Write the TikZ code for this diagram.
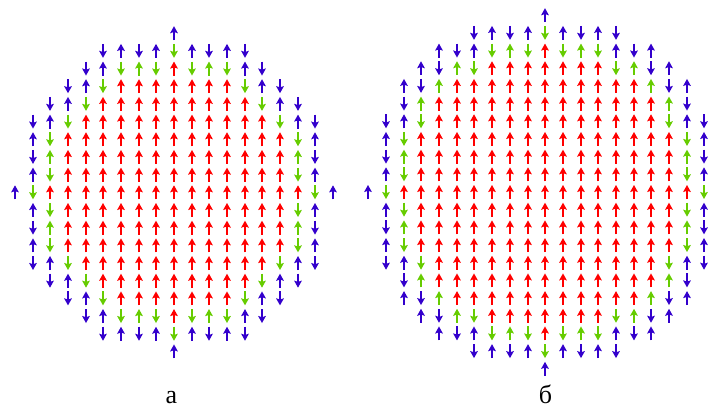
\documentclass[tikz,border=0pt]{standalone}
\usepackage{fontspec}
\setmainfont{Liberation Serif}
\usetikzlibrary{arrows.meta}
\definecolor{spinred}{RGB}{255,0,0}
\definecolor{spinblue}{RGB}{51,0,204}
\definecolor{spingreen}{RGB}{102,204,0}
\tikzset{
  spin/.style={line width=2pt,-{Stealth[length=7pt,width=7.6pt,inset=1.2pt]}},
  caption/.style={font=\fontsize{26}{30}\selectfont,anchor=base,inner sep=0pt}
}
% #1 cx, #2 cy (pixels from top), #3 R, #4 blue thresholds, #5 green thresholds, #6 skip i
\newcommand\spinfield[6]{%
  \foreach \i in {-#3,...,#3} {
    \foreach \j in {-#3,...,#3} {
      \pgfmathtruncatemacro\ins{(\i*\i+\j*\j<=#3*#3)?1:0}
      \ifnum\i=#6 \def\ins{0}\fi
      \ifnum\ins=1
        \pgfmathtruncatemacro\aa{abs(\i)}
        \pgfmathtruncatemacro\bb{abs(\j)}
        \pgfmathtruncatemacro\BL{{#4}[\aa]}
        \pgfmathtruncatemacro\GR{{#5}[\aa]}
        \pgfmathtruncatemacro\pty{mod(\i+\j+#3+100,2)}
        \pgfmathsetmacro\xx{round(#1+\i*17.68)}
        \pgfmathsetmacro\yy{-#2+\j*17.68}
        \ifnum\bb<\BL
          \ifnum\bb<\GR
            \def\col{spinred}\def\pty{0}%
          \else
            \def\col{spingreen}%
          \fi
        \else
          \def\col{spinblue}%
        \fi
        \ifnum\pty=0
          \draw[spin,\col] (\xx pt,\yy pt-7pt) -- (\xx pt,\yy pt+7pt);
        \else
          \draw[spin,\col] (\xx pt,\yy pt+7pt) -- (\xx pt,\yy pt-7pt);
        \fi
      \fi
    }
  }%
}
\begin{document}
\begin{tikzpicture}[x=1pt,y=1pt]
\useasboundingbox (0,0) rectangle (720,-409);
\spinfield{174}{192.3}{9}{9,8,8,8,7,6,5,4,1,0}{8,7,7,7,6,5,4,1,0,0}{99}
\spinfield{545.2}{192}{10}{10,9,9,9,8,8,7,6,4,1,0}{9,8,8,8,7,7,6,4,1,0,0}{10}
\node[caption] (capa) at (171.5,-403) {а};
\node[caption] (capb) at (545.5,-403) {б};
\end{tikzpicture}
\end{document}
